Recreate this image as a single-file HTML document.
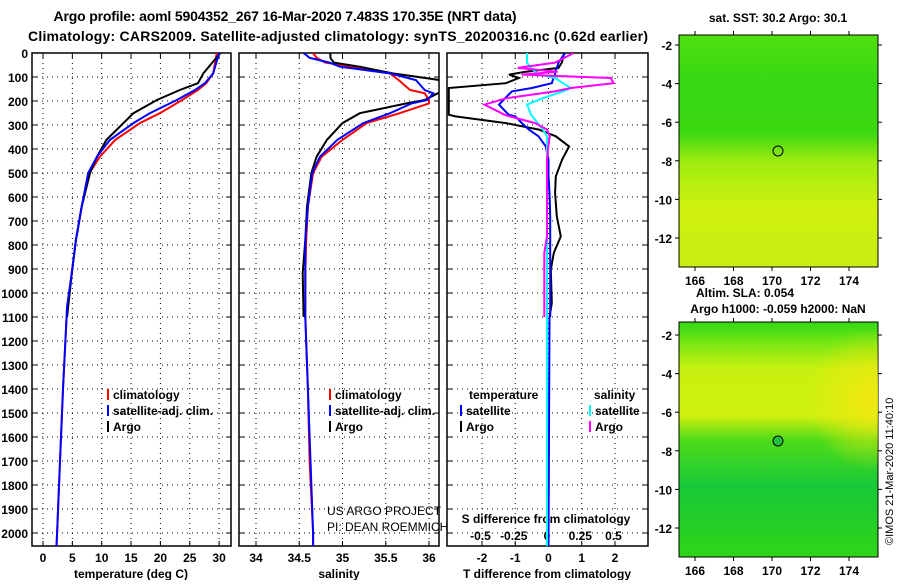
<!DOCTYPE html>
<html><head><meta charset="utf-8"><style>
body{margin:0;background:#fff;width:900px;height:580px;overflow:hidden}
svg text{font-family:"Liberation Sans",sans-serif;font-weight:bold}
</style></head><body>
<svg id="c" width="900" height="580" viewBox="0 0 900 580">
<defs>
<linearGradient id="sst" x1="0" y1="0" x2="0" y2="1">
<stop offset="0" stop-color="#50e010"/><stop offset="0.2" stop-color="#38d815"/><stop offset="0.42" stop-color="#3cd812"/>
<stop offset="0.55" stop-color="#a0ec10"/><stop offset="0.75" stop-color="#d0f010"/><stop offset="1" stop-color="#c8ee12"/></linearGradient>
<linearGradient id="sla" x1="0" y1="0" x2="0" y2="1">
<stop offset="0" stop-color="#30d818"/><stop offset="0.1" stop-color="#80e812"/><stop offset="0.2" stop-color="#c8f010"/>
<stop offset="0.4" stop-color="#d0f010"/><stop offset="0.5" stop-color="#50dc18"/><stop offset="0.7" stop-color="#18c838"/><stop offset="1" stop-color="#30d418"/></linearGradient>
<radialGradient id="slaY" cx="0.95" cy="0.33" r="0.3"><stop offset="0" stop-color="#f0e810"/><stop offset="1" stop-color="#f0e810" stop-opacity="0"/></radialGradient>
</defs>
<g id="titles">
<text x="285" y="21" font-size="14" text-anchor="middle" textLength="463">Argo profile: aoml 5904352_267 16-Mar-2020 7.483S 170.35E (NRT data)</text>
<text x="338" y="41" font-size="14" text-anchor="middle" textLength="620">Climatology: CARS2009. Satellite-adjusted climatology: synTS_20200316.nc (0.62d earlier)</text>
</g>
<g id="g"></g>
<g id="maps">
<text x="778" y="22" font-size="12" text-anchor="middle">sat. SST: 30.2 Argo: 30.1</text>
<rect x="679" y="35" width="199" height="232" fill="url(#sst)" stroke="#000"/>
<circle cx="778" cy="151" r="5" fill="none" stroke="#000"/>
<text x="745" y="297" font-size="12" text-anchor="middle">Altim. SLA: 0.054</text>
<text x="778" y="313" font-size="12" text-anchor="middle">Argo h1000: -0.059 h2000: NaN</text>
<rect x="679" y="322" width="199" height="235" fill="url(#sla)" stroke="#000"/>
<rect x="679" y="322" width="199" height="235" fill="url(#slaY)"/>
<circle cx="778" cy="441" r="5" fill="#20c040" stroke="#000"/>
<text transform="translate(893,545) rotate(-90)" font-size="11" style="font-weight:normal">©IMOS 21-Mar-2020 11:40:10</text>
</g>
</svg>
<script>
const dA=[0,85,126,154,196,251,292,362,432,500,640,780,917,1057,1100];
const tArgo=[30.2,27.3,26.4,23.3,19.4,15.4,13.7,10.8,9.2,8.0,6.6,5.6,4.9,4.3,4.1];
const dB=[0,85,126,154,196,251,292,362,432,500,640,780,917,1057,1400,1700,2000,2055];
const tSat=[30.0,29.0,27.6,25.9,22.8,18.2,15.4,11.4,9.2,7.7,6.6,5.6,4.9,4.1,3.4,2.9,2.4,2.3];
const tClim=[29.6,29.0,27.8,26.4,23.7,19.9,16.5,12.3,9.7,7.9,6.6,5.6,4.9,4.1,3.4,2.9,2.4,2.3];
const dS=[0,20,40,57,85,113,154,168,196,210,251,292,362,432,500,640,780,917,1100,1400,1700,2000,2055];
const sArgo=[34.86,34.86,34.9,35.2,35.58,36.13,36.2,36.1,35.95,35.74,35.2,35.0,34.82,34.7,34.64,34.59,34.57,34.54,34.55,null,null,null,null];
const sSat=[34.55,34.62,34.85,34.97,35.55,35.85,35.95,36.05,35.98,35.8,35.55,35.24,34.94,34.74,34.65,34.6,34.57,34.57,34.57,34.6,34.63,34.66,34.66];
const sClim=[34.66,34.7,34.8,35.12,35.55,35.65,35.78,35.95,36.0,36.0,35.66,35.28,35.0,34.76,34.66,34.6,34.58,34.57,34.57,34.6,34.62,34.66,34.66];
const dD=[0,40,62,78,90,104,126,146,160,188,215,257,264,292,319,347,389,444,514,583,681,764,833,903,1042,1083,1100];
const dTArgo=[0.47,0.4,0.3,-0.68,-1.19,-0.89,-1.28,-3,-3,-3,-3,-3,-2.8,-1.28,-0.29,0.22,0.62,0.41,0.22,0.2,0.25,0.37,0.16,0.07,0.1,0.05,0.05];
const dTSat=[0.5,0.3,0.25,0.2,0.2,0.15,0.1,-0.5,-1.1,-1.3,-1.49,-1.2,-1.0,-0.8,-0.59,-0.3,-0.08,0.0,0.0,0.03,0.05,0.05,0.05,0.05,0.05,0.05,0.03];
const dSArgo=[0.2,0.06,-0.22,0.08,-0.19,0.48,0.5,0.18,0.06,-0.3,-0.47,-0.32,-0.28,-0.09,0.0,0.02,0.01,0.0,0.0,0.0,0.0,0.0,-0.02,-0.02,-0.02,-0.02,-0.02];
const dSSat=[-0.15,-0.15,-0.12,-0.09,-0.06,0.06,0.12,0.18,0.12,-0.03,-0.15,-0.12,-0.11,-0.07,-0.03,0.0,0.0,0.0,0.0,0.0,0.0,0.0,0.0,0.0,0.0,0.0,0.0];
const depthTicks=[0,100,200,300,400,500,600,700,800,900,1000,1100,1200,1300,1400,1500,1600,1700,1800,1900,2000];
const tTicks=[0,5,10,15,20,25,30];
const sTicks=[34,34.5,35,35.5,36];
const dTTicks=[-2,-1,0,1,2];
const dSTicks=[-0.5,-0.25,0,0.25,0.5];

const NS='http://www.w3.org/2000/svg';
const G=document.getElementById('g');
function el(t,a,p){const e=document.createElementNS(NS,t);for(const k in a)e.setAttribute(k,a[k]);(p||G).appendChild(e);return e;}
const Y=d=>53+d*0.24;
const TOP=53,BOT=546;
const xT=v=>43+v*5.87, xS=v=>256+(v-34)*86.5, xDT=v=>548.5+v*33.25, xDS=v=>547+v*133;
const panels=[{x0:32,x1:231,name:'temperature'},{x0:239,x1:439,name:'salinity'},{x0:447,x1:648,name:'difference'}];
panels.forEach((p,i)=>{
  const cp=el('clipPath',{id:'cp'+i});el('rect',{x:p.x0,y:TOP,width:p.x1-p.x0,height:BOT-TOP},cp);
  const fr=el('rect',{x:p.x0,y:TOP,width:p.x1-p.x0,height:BOT-TOP,fill:'none',stroke:'#000','stroke-width':1.5});
  
  
  depthTicks.forEach(d=>{
    const gl=el('line',{x1:p.x0,x2:p.x1,y1:Y(d),y2:Y(d),stroke:'#000','stroke-dasharray':'1 4'});
    
    
    el('line',{x1:p.x0,x2:p.x0+5,y1:Y(d),y2:Y(d),stroke:'#000'});
    el('line',{x1:p.x1-5,x2:p.x1,y1:Y(d),y2:Y(d),stroke:'#000'});
  });
});
depthTicks.forEach(d=>{
  const t=el('text',{x:28,y:Y(d)+5,'font-size':12,'text-anchor':'end'});t.textContent=d;
  
  
});
function xticks(ticks,fx,fmt,ly){
  ticks.forEach(v=>{
    const x=fx(v);
    el('line',{x1:x,x2:x,y1:TOP,y2:BOT,stroke:'#000','stroke-dasharray':'1 4'});
    el('line',{x1:x,x2:x,y1:TOP,y2:TOP+5,stroke:'#000'});
    el('line',{x1:x,x2:x,y1:BOT-5,y2:BOT,stroke:'#000'});
    const t=el('text',{x:x,y:ly,'font-size':12,'text-anchor':'middle'});t.textContent=fmt(v);
    
    
  });
}
xticks(tTicks,xT,v=>v,562);
xticks(sTicks,xS,v=>v,562);
xticks(dTTicks,xDT,v=>v,562);
dSTicks.forEach(v=>{const t=el('text',{x:xDS(v),y:540,'font-size':12,'text-anchor':'middle'});t.textContent=v;
  
  });
[['temperature (deg C)',131],['salinity',339],['T difference from climatology',547]].forEach(([s,x])=>{
  const t=el('text',{x:x,y:578,'font-size':12,'text-anchor':'middle'});t.textContent=s;
  
  });
const sd=el('text',{x:546,y:523,'font-size':12,'text-anchor':'middle'});sd.textContent='S difference from climatology';



function line(ds,vs,fx,col,ci,name,w){
  let pts=[];ds.forEach((d,i)=>{if(vs[i]!==null)pts.push(fx(vs[i]).toFixed(1)+','+Y(d).toFixed(1));});
  const pl=el('polyline',{points:pts.join(' '),fill:'none',stroke:col,'stroke-width':w||2,'clip-path':'url(#cp'+ci+')'});
  
  
}
line(dB,tClim,xT,'#f00',0,'temp-climatology-line');
line(dA,tArgo,xT,'#000',0,'temp-argo-line');
line(dB,tSat,xT,'#00f',0,'temp-satellite-line');
line(dS,sClim,xS,'#f00',1,'sal-climatology-line');
line(dS,sArgo,xS,'#000',1,'sal-argo-line');
line(dS,sSat,xS,'#00f',1,'sal-satellite-line');
line(dD,dTArgo,xDT,'#000',2,'tdiff-argo-line');
line(dD.concat([2055]),dTSat.concat([0.0]),xDT,'#00f',2,'tdiff-satellite-line');
line(dD.concat([2055]),dSSat.concat([0.0]),xDS,'#0ff',2,'sdiff-satellite-line');
line(dD,dSArgo,xDS,'#f0f',2,'sdiff-argo-line');

function leg(x,y,col,txt){
  if(col)el('line',{x1:x,x2:x,y1:y-10,y2:y+1,stroke:col,'stroke-width':2});
  const t=el('text',{x:x+5,y:y,'font-size':12});t.textContent=txt;
  
  
}
leg(108,399,'#f00','climatology');leg(108,415,'#00f','satellite-adj. clim.');leg(108,431,'#000','Argo');
leg(330,399,'#f00','climatology');leg(330,415,'#00f','satellite-adj. clim.');leg(330,431,'#000','Argo');
leg(464,399,null,'temperature');leg(461,415,'#00f','satellite');leg(461,431,'#000','Argo');
leg(589,399,null,'salinity');leg(590,415,'#0ff','satellite');leg(590,431,'#f0f','Argo');
[['US ARGO PROJECT',515],['PI: DEAN ROEMMICH',531]].forEach(([s,y])=>{const t=el('text',{x:327,y:y,'font-size':12,style:'font-weight:normal'});t.textContent=s;
  
  });

const mg=document.getElementById('maps');
const lonX=v=>695+(v-166)*19.25;
[[35,267,45,19.3],[322,557,335,19.3]].forEach(([y0,y1,yl,s])=>{
  [166,168,170,172,174].forEach(v=>{const x=lonX(v);
    el('line',{x1:x,x2:x,y1:y0,y2:y0-4,stroke:'#000'},mg);el('line',{x1:x,x2:x,y1:y1,y2:y1+4,stroke:'#000'},mg);
    const t=el('text',{x:x,y:y1+18,'font-size':12,'text-anchor':'middle'},mg);t.textContent=v;
    
    });
  [-2,-4,-6,-8,-10,-12].forEach(v=>{const y=yl+(-2-v)*s;
    el('line',{x1:675,x2:679,y1:y,y2:y,stroke:'#000'},mg);el('line',{x1:878,x2:882,y1:y,y2:y,stroke:'#000'},mg);
    const t=el('text',{x:672,y:y+5,'font-size':12,'text-anchor':'end'},mg);t.textContent=v;
    
    });
});
</script>
</body></html>
